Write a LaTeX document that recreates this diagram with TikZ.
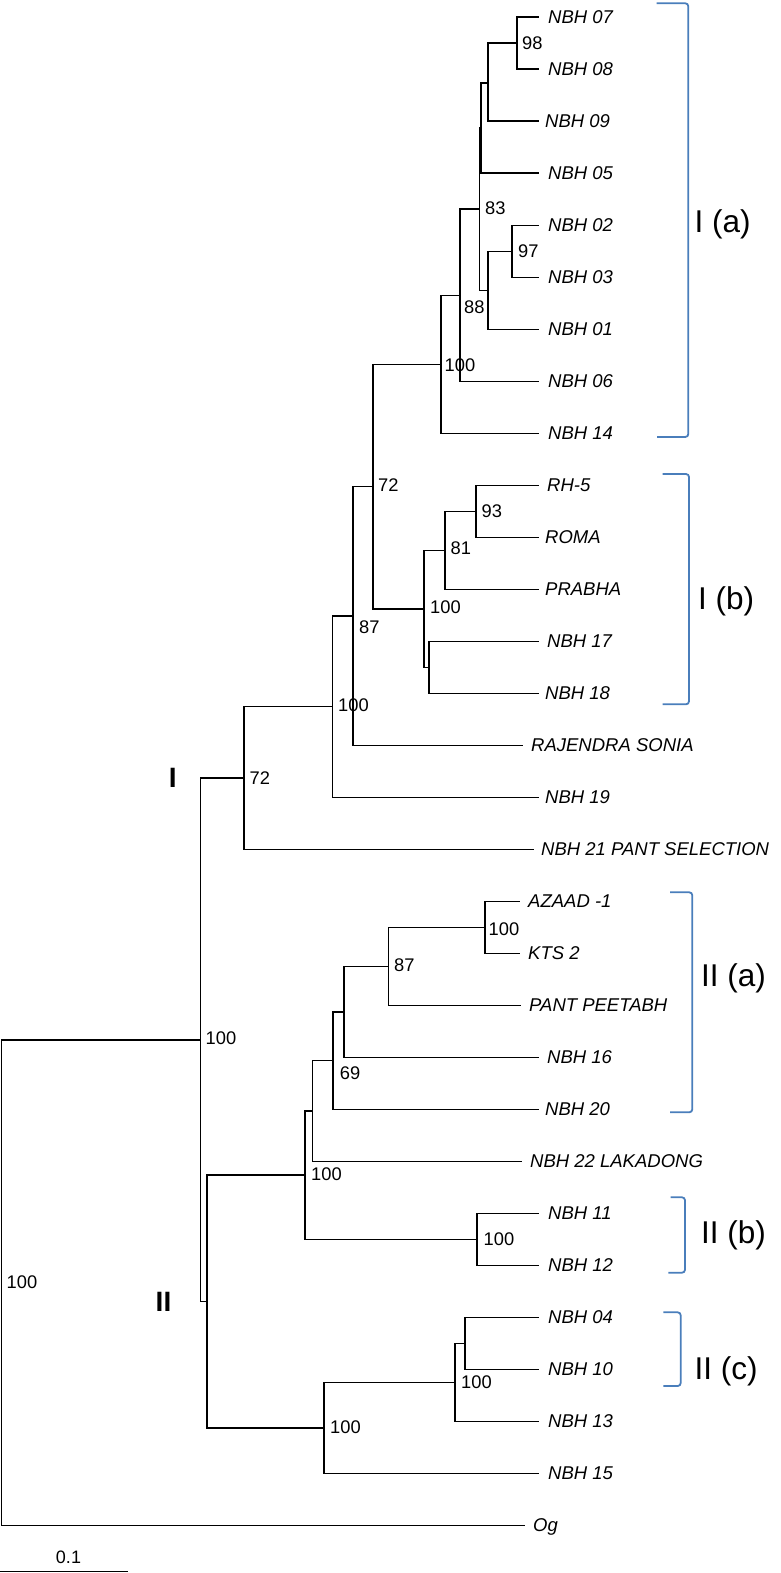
\documentclass[tikz,border=0pt]{standalone}
\usepackage{fontspec}
\setmainfont{Liberation Sans}
\definecolor{bracketblue}{RGB}{74,126,187}
\newcommand\mkleaf[5]{%
  \coordinate (#1) at (#3,#2);
  \node[leaflab] (#1l) at (#4,#2) {#5};}
\begin{document}
\begin{tikzpicture}[x=1pt,y=-1pt,
  branch/.style={line width=1.6pt, black, line cap=rect},
  clade/.style={line width=1.8pt, draw=bracketblue, rounded corners=3pt},
  leaflab/.style={anchor=west, inner sep=0pt, font=\fontsize{18.5}{20}\selectfont\itshape, text height=13.2pt, text depth=0pt},
  boot/.style={anchor=west, inner sep=0pt, font=\fontsize{18.3}{20}\selectfont, text height=13.1pt, text depth=0pt},
  cladelab/.style={anchor=west, inner sep=0pt, font=\fontsize{31.5}{34}\selectfont, text height=22.5pt, text depth=0pt},
  grouplab/.style={inner sep=0pt, font=\fontsize{28}{30}\selectfont\bfseries, text height=20pt, text depth=0pt},
]
\useasboundingbox (0,0) rectangle (780,1573);

% ---------- leaves ----------
\mkleaf{L0}{17.3}{538}{548}{NBH 07}
\mkleaf{L1}{69.3}{538}{548}{NBH 08}
\mkleaf{L2}{121.3}{538}{545}{NBH 09}
\mkleaf{L3}{173.3}{538}{548}{NBH 05}
\mkleaf{L4}{225.3}{538}{548}{NBH 02}
\mkleaf{L5}{277.3}{538}{548}{NBH 03}
\mkleaf{L6}{329.3}{538}{548}{NBH 01}
\mkleaf{L7}{381.3}{538}{548}{NBH 06}
\mkleaf{L8}{433.3}{538}{548}{NBH 14}
\mkleaf{L9}{485.3}{538}{547}{RH-5}
\mkleaf{L10}{537.3}{538}{545}{ROMA}
\mkleaf{L11}{589.3}{538}{545}{PRABHA}
\mkleaf{L12}{641.3}{538}{547}{NBH 17}
\mkleaf{L13}{693.3}{538}{545}{NBH 18}
\mkleaf{L14}{745.3}{522}{531}{RAJENDRA SONIA}
\mkleaf{L15}{797.3}{538}{545}{NBH 19}
\mkleaf{L16}{849.3}{533}{541}{NBH 21 PANT SELECTION}
\mkleaf{L17}{901.3}{519}{528}{AZAAD -1}
\mkleaf{L18}{953.3}{519}{528}{KTS 2}
\mkleaf{L19}{1005.3}{520}{529}{PANT PEETABH}
\mkleaf{L20}{1057.3}{538}{547}{NBH 16}
\mkleaf{L21}{1109.3}{538}{545}{NBH 20}
\mkleaf{L22}{1161.3}{521}{530}{NBH 22 LAKADONG}
\mkleaf{L23}{1213.3}{538}{548}{NBH 11}
\mkleaf{L24}{1265.3}{538}{548}{NBH 12}
\mkleaf{L25}{1317.3}{538}{548}{NBH 04}
\mkleaf{L26}{1369.3}{538}{548}{NBH 10}
\mkleaf{L27}{1421.3}{538}{548}{NBH 13}
\mkleaf{L28}{1473.3}{538}{548}{NBH 15}
\mkleaf{L29}{1525.3}{524}{533}{Og}

% ---------- internal nodes ----------
\coordinate (n0708) at (516.7,43.3);
\coordinate (n789)  at (488,83);
\coordinate (nB)    at (481,128.2);
\coordinate (n0203) at (511.7,251.3);
\coordinate (n01)   at (488,290.3);
\coordinate (nC)    at (479.5,209.2);
\coordinate (n06)   at (460,295.3);
\coordinate (nIa)   at (441,364.3);
\coordinate (nRH)   at (475.7,511.3);
\coordinate (nPR)   at (445,550.3);
\coordinate (n1718) at (428.7,667.3);
\coordinate (nIb)   at (424,608.8);
\coordinate (n72u)  at (372.7,486.5);
\coordinate (n87u)  at (353,615.9);
\coordinate (n100c) at (332.3,706.6);
\coordinate (n72l)  at (244,778);
\coordinate (nAK)   at (485,927.3);
\coordinate (n87l)  at (388.3,966.3);
\coordinate (n16)   at (344,1011.8);
\coordinate (n69)   at (332.7,1060.5);
\coordinate (n22)   at (312.3,1110.9);
\coordinate (n1112) at (476.7,1239.3);
\coordinate (n100d) at (305,1175.1);
\coordinate (n0410) at (465,1343.3);
\coordinate (n13)   at (455,1382.3);
\coordinate (n100e) at (324,1427.8);
\coordinate (nII)   at (206.7,1301.5);
\coordinate (nIII)  at (200.5,1039.8);
\coordinate (root)  at (1.5,1282.5);

% ---------- branches ----------
\draw[branch] (n0708) |- (L0);  \draw[branch] (n0708) |- (L1);
\draw[branch] (n789) |- (n0708); \draw[branch] (n789) |- (L2);
\draw[branch] (nB) |- (n789);   \draw[branch] (nB) |- (L3);
\draw[branch] (n0203) |- (L4);  \draw[branch] (n0203) |- (L5);
\draw[branch] (n01) |- (n0203); \draw[branch] (n01) |- (L6);
\draw[branch] (nC) |- (nB);     \draw[branch] (nC) |- (n01);
\draw[branch] (n06) |- (nC);    \draw[branch] (n06) |- (L7);
\draw[branch] (nIa) |- (n06);   \draw[branch] (nIa) |- (L8);
\draw[branch] (nRH) |- (L9);    \draw[branch] (nRH) |- (L10);
\draw[branch] (nPR) |- (nRH);   \draw[branch] (nPR) |- (L11);
\draw[branch] (n1718) |- (L12); \draw[branch] (n1718) |- (L13);
\draw[branch] (nIb) |- (nPR);   \draw[branch] (nIb) |- (n1718);
\draw[branch] (n72u) |- (nIa);  \draw[branch] (n72u) |- (nIb);
\draw[branch] (n87u) |- (n72u); \draw[branch] (n87u) |- (L14);
\draw[branch] (n100c) |- (n87u); \draw[branch] (n100c) |- (L15);
\draw[branch] (n72l) |- (n100c); \draw[branch] (n72l) |- (L16);
\draw[branch] (nAK) |- (L17);   \draw[branch] (nAK) |- (L18);
\draw[branch] (n87l) |- (nAK);  \draw[branch] (n87l) |- (L19);
\draw[branch] (n16) |- (n87l);  \draw[branch] (n16) |- (L20);
\draw[branch] (n69) |- (n16);   \draw[branch] (n69) |- (L21);
\draw[branch] (n22) |- (n69);   \draw[branch] (n22) |- (L22);
\draw[branch] (n1112) |- (L23); \draw[branch] (n1112) |- (L24);
\draw[branch] (n100d) |- (n22); \draw[branch] (n100d) |- (n1112);
\draw[branch] (n0410) |- (L25); \draw[branch] (n0410) |- (L26);
\draw[branch] (n13) |- (n0410); \draw[branch] (n13) |- (L27);
\draw[branch] (n100e) |- (n13); \draw[branch] (n100e) |- (L28);
\draw[branch] (nII) |- (n100d); \draw[branch] (nII) |- (n100e);
\draw[branch] (nIII) |- (n72l); \draw[branch] (nIII) |- (nII);
\draw[branch] (root) |- (nIII); \draw[branch] (root) |- (L29);

% ---------- bootstrap values ----------
\node[boot] (b98)  at (522,43) {98};
\node[boot] (b83)  at (485,208) {83};
\node[boot] (b97)  at (518,250.7) {97};
\node[boot] (b88)  at (464,307) {88};
\node[boot] (b100a) at (444.5,365) {100};
\node[boot] (b72a) at (378,485) {72};
\node[boot] (b93)  at (481.5,511) {93};
\node[boot] (b81)  at (450.5,548.3) {81};
\node[boot] (b100b) at (430,606.7) {100};
\node[boot] (b87a) at (359,626.7) {87};
\node[boot] (b100c) at (338,705) {100};
\node[boot] (b72b) at (249.5,777.5) {72};
\node[boot] (b100d) at (205.5,1038) {100};
\node[boot] (b100e) at (488.5,929) {100};
\node[boot] (b87b) at (394,965) {87};
\node[boot] (b69)  at (339.7,1073.3) {69};
\node[boot] (b100f) at (311,1174) {100};
\node[boot] (b100g) at (483.5,1239.3) {100};
\node[boot] (b100h) at (461,1381.7) {100};
\node[boot] (b100i) at (330,1427.3) {100};
\node[boot] (b100j) at (6.5,1281.7) {100};

% ---------- group labels ----------
\node[grouplab] (gI)  at (172.7,777) {I};
\node[grouplab] (gII) at (163.5,1301.5) {II};

% ---------- clade brackets ----------
\draw[clade] (656.7,3.3) -- (688.3,3.3) -- (688.3,437) -- (657,437);
\draw[clade] (662.7,474) -- (689,474) -- (689,704.3) -- (662.7,704.3);
\draw[clade] (670,892.3) -- (692.3,892.3) -- (692.3,1112.3) -- (670,1112.3);
\draw[clade] (670.7,1197.3) -- (685,1197.3) -- (685,1272.7) -- (668.3,1272.7);
\draw[clade] (663.3,1312.3) -- (680.7,1312.3) -- (680.7,1386) -- (663.3,1386);

\node[cladelab] (cIa)  at (694.5,221) {I (a)};
\node[cladelab] (cIb)  at (698,598.7) {I (b)};
\node[cladelab] (cIIa) at (701,975) {II (a)};
\node[cladelab] (cIIb) at (701,1232) {II (b)};
\node[cladelab] (cIIc) at (694.5,1368) {II (c)};

% ---------- scale bar ----------
\coordinate (sb0) at (0,1571.5);
\coordinate (sb1) at (128.3,1571.5);
\draw[line width=1.6pt] (sb0) -- (sb1);
\node[inner sep=0pt, font=\fontsize{18}{20}\selectfont] (sblab) at (68.5,1557) {0.1};
\end{tikzpicture}
\end{document}
